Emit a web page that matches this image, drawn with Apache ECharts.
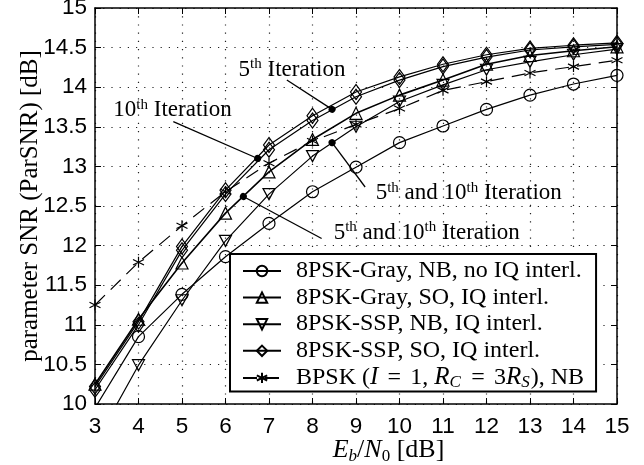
<!DOCTYPE html>
<html><head><meta charset="utf-8">
<script src="https://cdn.jsdelivr.net/npm/echarts@6/dist/echarts.min.js"></script>
<style>html,body{margin:0;padding:0;background:#fff}#c{width:644px;height:465px}</style>
</head><body><div id="c"></div>
<script>
// ---- data ----
const ebn0 = [3,4,5,6,7,8,9,10,11,12,13,14,15];
const grayNB   = [9.95,10.85,11.385,11.86,12.28,12.68,12.99,13.30,13.51,13.72,13.90,14.04,14.15];
const graySO   = [10.25,11.07,11.78,12.41,12.93,13.34,13.67,13.90,14.09,14.29,14.40,14.46,14.51];
const sspNB    = [9.50,10.49,11.31,12.06,12.65,13.13,13.50,13.82,14.03,14.22,14.32,14.41,14.48];
const sspSO10  = [10.22,11.04,11.99,12.70,13.27,13.64,13.94,14.13,14.29,14.41,14.49,14.53,14.56];
const sspSO5   = [10.18,11.00,11.94,12.65,13.21,13.58,13.88,14.09,14.26,14.38,14.47,14.51,14.54];
const bpsk     = [11.25,11.79,12.25,12.68,13.04,13.32,13.53,13.73,13.96,14.07,14.18,14.26,14.34];
const seriesNames = ['8PSK-Gray, NB, no IQ interl.','8PSK-Gray, SO, IQ interl.','8PSK-SSP, NB, IQ interl.','8PSK-SSP, SO, IQ interl.','BPSK'];
const xTicks = {min:3, max:15, interval:1};
const yTicks = {min:10, max:15, interval:0.5};
// annotations: [dot point, line end, text anchor (left-middle), text]
const annotations = [
  {dot:[6.74,13.10], end:[4.80,13.565], text:[3.41,13.71], txt:'{n|10}{sup|th}{n| Iteration}'},
  {dot:[8.45,13.72], end:[7.41,14.09], text:[6.29,14.22], txt:'{n|5}{sup|th}{n| Iteration}'},
  {dot:[8.45,13.30], end:[9.21,12.74], text:[9.44,12.66], txt:'{n|5}{sup|th}{n| and 10}{sup|th}{n| Iteration}'},
  {dot:[6.41,12.62], end:[8.21,12.09], text:[8.475,12.16], txt:'{n|5}{sup|th}{n| and 10}{sup|th}{n| Iteration}'}
];

const pairs = ys => ebn0.map((x,i)=>[x,ys[i]]);
const serif = 'Liberation Serif';
const sans = 'Liberation Sans';
const richText = {
  n:{fontFamily:serif,fontSize:23,lineHeight:26,color:'#000'},
  sup:{fontFamily:serif,fontSize:15,lineHeight:15,verticalAlign:'top',color:'#000'}
};
const legendRich = {
  n:{fontFamily:serif,fontSize:24,color:'#000'},
  i:{fontFamily:serif,fontSize:25,fontStyle:'italic',color:'#000'},
  eq:{fontFamily:serif,fontSize:24,width:32,align:'center',color:'#000'},
  sub:{fontFamily:serif,fontSize:17,fontStyle:'italic',verticalAlign:'top',padding:[10,1,0,0],color:'#000'}
};
const xNameRich = {
  n:{fontFamily:serif,fontSize:26,color:'#000'},
  i:{fontFamily:serif,fontSize:26,fontStyle:'italic',color:'#000'},
  sub:{fontFamily:serif,fontSize:17,fontStyle:'italic',verticalAlign:'top',padding:[12,0,0,0],color:'#000'},
  sub0:{fontFamily:serif,fontSize:17,verticalAlign:'top',padding:[12,0,0,0],color:'#000'}
};
const markerStyle = {color:'rgba(255,255,255,0)', borderColor:'#000', borderWidth:1.2};
const triDown = 'path://M0,0L12,0L6,11Z';
const asterisk = 'path://M5,0L5,10M0.7,2.5L9.3,7.5M0.7,7.5L9.3,2.5';

function mk(name, ys, symbol, size, dashed, extra){
  return Object.assign({
    type:'line', name:name, data:pairs(ys), symbol:symbol, symbolSize:size,
    showAllSymbol:true, animation:false,
    lineStyle:{color:'#000', width:1.2, type: dashed ? [14,8] : 'solid'},
    itemStyle:Object.assign({}, markerStyle),
    emphasis:{disabled:true}
  }, extra||{});
}

const annotSeries = {
  type:'line', name:'annot', data:[], animation:false, silent:true,
  markLine:{
    silent:true, animation:false, symbol:['circle','none'], symbolSize:7,
    label:{show:false},
    lineStyle:{color:'#000', width:1.3, type:'solid'},
    itemStyle:{color:'#000'},
    data: annotations.map(a=>[{coord:a.dot},{coord:a.end}])
  },
  markPoint:{
    silent:true, animation:false, symbol:'circle', symbolSize:1,
    itemStyle:{color:'rgba(0,0,0,0)'},
    label:{show:true, position:'right', distance:0, rich:richText},
    data: annotations.map(a=>({coord:a.text, label:{formatter:a.txt}}))
  }
};

const chart = echarts.init(document.getElementById('c'), null, {renderer:'canvas'});
const axisCommon = {
  type:'value',
  nameMoveOverlap:false,
  axisLine:{show:true, onZero:false, lineStyle:{color:'#000', width:1.5}},
  axisTick:{show:true, inside:true, length:6, lineStyle:{color:'#000', width:1}},
};
chart.setOption({
  backgroundColor:'#fff',
  animation:false,
  grid:{left:95, right:27, top:8, bottom:61, containLabel:false, outerBoundsMode:'none'},
  xAxis:[
    Object.assign({}, axisCommon, xTicks, {position:'bottom',
      axisLabel:{fontFamily:sans, fontSize:22.5, color:'#000', margin:11.5},
      splitLine:{show:true, lineStyle:{color:'#222', width:1.2, type:[1.2,7]}},
      name:'{i|E}{sub|b}{n|/}{i|N}{sub0|0}{n| [dB]}', nameLocation:'middle', nameGap:32,
      nameTextStyle:{rich:xNameRich, padding:[0,0,0,65]}
    }),
    Object.assign({}, axisCommon, xTicks, {position:'top', axisLabel:{show:false}, splitLine:{show:false}})
  ],
  yAxis:[
    Object.assign({}, axisCommon, yTicks, {position:'left',
      axisLabel:{fontFamily:sans, fontSize:22.5, color:'#000', margin:8},
      splitLine:{show:true, lineStyle:{color:'#222', width:1.2, type:[1.2,7]}},
      name:'parameter SNR (ParSNR) [dB]', nameLocation:'middle', nameGap:52,
      nameTextStyle:{fontFamily:serif, fontSize:25, color:'#000'}
    }),
    Object.assign({}, axisCommon, yTicks, {position:'right', axisLabel:{show:false}, splitLine:{show:false}})
  ],
  legend:{
    orient:'vertical', left:230, top:254,
    data:seriesNames,
    backgroundColor:'#fff', borderColor:'#000', borderWidth:2, borderRadius:0,
    padding:[5,12,0,12], itemGap:2.6, itemWidth:38, itemHeight:13,
    selectedMode:false,
    textStyle:{fontFamily:serif, fontSize:24, color:'#000', padding:[0,0,0,10], rich:legendRich},
    formatter: function(name){
      if(name==='BPSK') return '{n|BPSK (}{i|I}{eq|=}{n|1, }{i|R}{sub|C}{eq|=}{n|3}{i|R}{sub|S}{n|), NB}';
      return name;
    }
  },
  series:[
    mk(seriesNames[0], grayNB, 'circle', 12, false),
    mk(seriesNames[1], graySO, 'triangle', 12, false, {lineStyle:{color:'#000',width:1.6}}),
    mk(seriesNames[2], sspNB, triDown, [12,11], false),
    mk(seriesNames[3], sspSO10, 'diamond', [11,15], false),
    mk(seriesNames[3], sspSO5, 'diamond', [11,15], false),
    mk(seriesNames[4], bpsk, asterisk, 11, true),
    annotSeries
  ]
});
</script>
</body></html>
